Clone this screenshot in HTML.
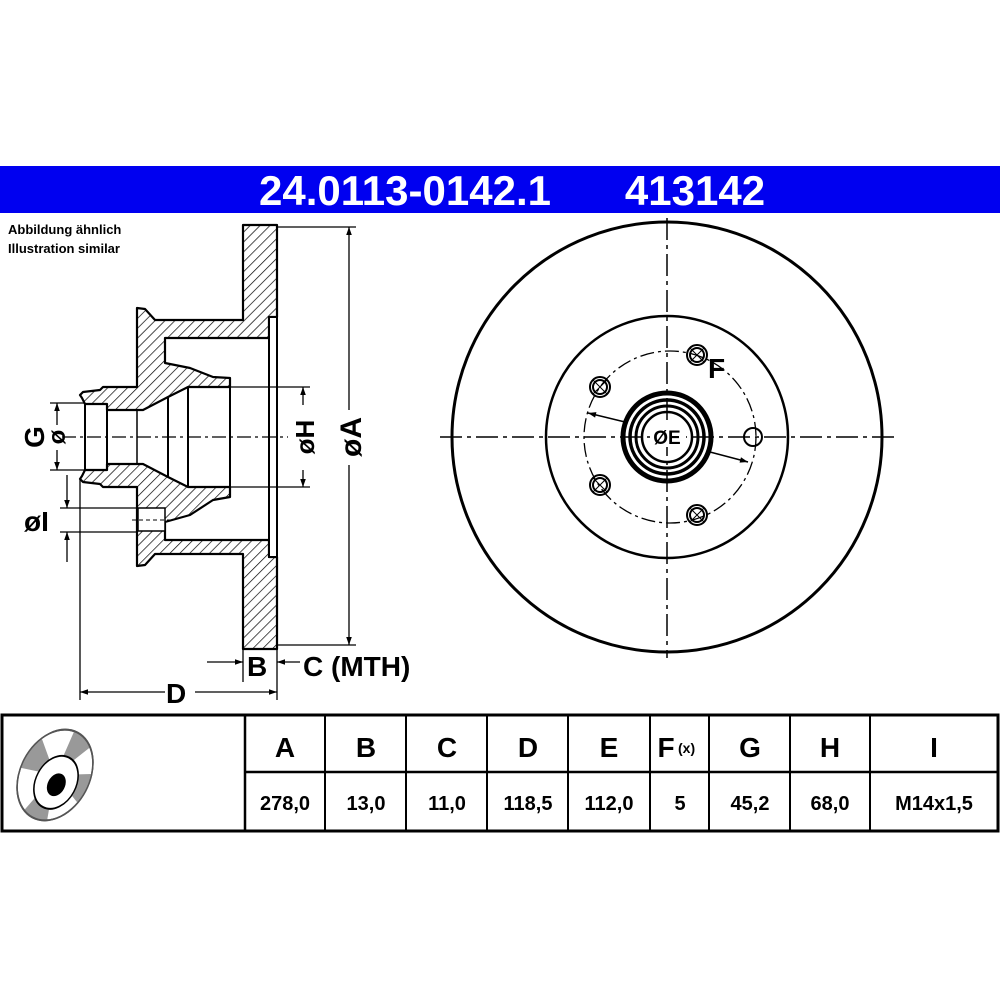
<!DOCTYPE html>
<html><head><meta charset="utf-8"><style>
html,body{margin:0;padding:0;background:#fff;}
svg{display:block;}
text{font-family:"Liberation Sans",Arial,sans-serif;font-weight:bold;fill:#000;}
</style></head><body>
<svg width="1000" height="1000" viewBox="0 0 1000 1000" xmlns="http://www.w3.org/2000/svg">
<defs>
<pattern id="h" patternUnits="userSpaceOnUse" width="7" height="7" patternTransform="rotate(45)">
<rect width="7" height="7" fill="#fff"/><line x1="0" y1="0" x2="0" y2="7" stroke="#000" stroke-width="1.4"/>
</pattern>
<marker id="ar" viewBox="0 0 10 10" refX="10" refY="5" markerWidth="10" markerHeight="8" orient="auto-start-reverse" markerUnits="userSpaceOnUse"><path d="M0,1.5 L10,5 L0,8.5z" fill="#000"/></marker>
</defs>
<rect x="0" y="166" width="1000" height="47" fill="#0000f0"/>
<text x="405" y="205" font-size="42" style="fill:#fff" text-anchor="middle">24.0113-0142.1</text>
<text x="695" y="205" font-size="42" style="fill:#fff" text-anchor="middle">413142</text>
<text x="8" y="234" font-size="13">Abbildung ähnlich</text>
<text x="8" y="253" font-size="13">Illustration similar</text>

<g stroke="#000" stroke-width="2.2" fill="url(#h)" stroke-linejoin="round">
<path d="M243,225 L277,225 L277,317 L269,317 L269,338 L165,338 L165,363 L190,368 L213,377 L230,378 L230,387 L188,387 L182,390 L168,397 L143,410 L107,410 L107,404 L85,404 L82,398 L80,395 L83,392 L100,390 L103,387 L137,387 L137,308 L145,309 L155,320 L243,320 Z"/>
<path d="M243,649 L277,649 L277,557 L269,557 L269,540 L165,540 L165,522 L190,515 L213,500 L230,497 L230,487 L188,487 L182,484 L168,477 L143,464 L107,464 L107,470 L85,470 L82,476 L80,479 L83,482 L100,484 L103,487 L137,487 L137,566 L145,565 L155,554 L243,554 Z"/>
</g>
<rect x="269" y="317" width="8" height="240" fill="#fff" stroke="#000" stroke-width="2"/>
<rect x="138" y="508" width="27" height="23" fill="#fff" stroke="#000" stroke-width="1.5"/>
<line x1="132" y1="520" x2="172" y2="520" stroke="#000" stroke-width="1" stroke-dasharray="4,3"/>
<g stroke="#000" stroke-width="2">
<line x1="85" y1="404" x2="85" y2="470"/><line x1="107" y1="410" x2="107" y2="464"/>
<line x1="137" y1="410" x2="137" y2="464" stroke-width="1.5"/><line x1="168" y1="397" x2="168" y2="477"/>
<line x1="188" y1="387" x2="188" y2="487"/><line x1="230" y1="378" x2="230" y2="497"/>
</g>
<line x1="62" y1="437" x2="288" y2="437" stroke="#000" stroke-width="1.2" stroke-dasharray="14,4,3,4"/>
<g stroke="#000" stroke-width="1.3" fill="none">
<line x1="277" y1="227" x2="356" y2="227"/><line x1="277" y1="645" x2="356" y2="645"/>
<line x1="349" y1="227" x2="349" y2="410" marker-start="url(#ar)"/><line x1="349" y1="465" x2="349" y2="645" marker-end="url(#ar)"/>
<line x1="230" y1="387" x2="310" y2="387"/><line x1="230" y1="487" x2="310" y2="487"/>
<line x1="303" y1="387" x2="303" y2="405" marker-start="url(#ar)"/><line x1="303" y1="470" x2="303" y2="487" marker-end="url(#ar)"/>
<line x1="50" y1="403" x2="85" y2="403"/><line x1="50" y1="470" x2="85" y2="470"/>
<line x1="57" y1="403" x2="57" y2="425" marker-start="url(#ar)"/><line x1="57" y1="450" x2="57" y2="470" marker-end="url(#ar)"/>
<line x1="60" y1="508" x2="137" y2="508"/><line x1="60" y1="532" x2="137" y2="532"/>
<line x1="67" y1="475" x2="67" y2="508" marker-end="url(#ar)"/><line x1="67" y1="562" x2="67" y2="532" marker-end="url(#ar)"/>
<line x1="80" y1="480" x2="80" y2="700"/><line x1="277" y1="645" x2="277" y2="700"/>
<line x1="80" y1="692" x2="165" y2="692" marker-start="url(#ar)"/><line x1="195" y1="692" x2="277" y2="692" marker-end="url(#ar)"/>
<line x1="243" y1="645" x2="243" y2="682"/>
<line x1="207" y1="662" x2="243" y2="662" marker-end="url(#ar)"/><line x1="300" y1="662" x2="277" y2="662" marker-end="url(#ar)"/>
</g>
<text transform="translate(361,437) rotate(-90)" font-size="30" text-anchor="middle">øA</text>
<text transform="translate(314,437) rotate(-90)" font-size="26" text-anchor="middle">øH</text>
<text transform="translate(44,437) rotate(-90)" font-size="28" text-anchor="middle">G</text>
<text transform="translate(65,437) rotate(-90)" font-size="24" text-anchor="middle">ø</text>
<text x="24" y="531" font-size="28">øI</text>
<text x="166" y="703" font-size="28">D</text>
<text x="247" y="676" font-size="28">B</text>
<text x="303" y="676" font-size="28">C (MTH)</text>

<g stroke="#000" fill="none">
<circle cx="667" cy="437" r="215" stroke-width="3"/>
<circle cx="667" cy="437" r="121" stroke-width="2.5"/>
<circle cx="670" cy="437" r="86" stroke-width="1.3" stroke-dasharray="14,4,3,4"/>
<line x1="440" y1="437" x2="895" y2="437" stroke-width="1.5" stroke-dasharray="22,5,4,5"/>
<line x1="667" y1="218" x2="667" y2="658" stroke-width="1.5" stroke-dasharray="22,5,4,5"/>
<circle cx="667" cy="437" r="44" stroke-width="5"/>
<circle cx="667" cy="437" r="37" stroke-width="3.5"/>
<circle cx="667" cy="437" r="31" stroke-width="3"/>
<circle cx="667" cy="437" r="25" stroke-width="2.5"/>
<g stroke-width="2">
<circle cx="697" cy="355" r="10"/><circle cx="697" cy="355" r="7"/>
<circle cx="600" cy="387" r="10"/><circle cx="600" cy="387" r="7"/>
<circle cx="600" cy="485" r="10"/><circle cx="600" cy="485" r="7"/>
<circle cx="697" cy="515" r="10"/><circle cx="697" cy="515" r="7"/>
<circle cx="753" cy="437" r="9"/>
</g>
<g stroke-width="1">
<path d="M690,348 L704,362 M704,348 L690,362 M593,380 L607,394 M607,380 L593,394 M593,478 L607,492 M607,478 L593,492 M690,508 L704,522 M704,508 L690,522"/>
</g>
<line x1="625" y1="422" x2="588" y2="413" stroke-width="1.5" marker-end="url(#ar)"/>
<line x1="710" y1="452" x2="748" y2="462" stroke-width="1.5" marker-end="url(#ar)"/>
</g>
<rect x="650" y="425" width="36" height="22" fill="#fff"/>
<text x="667" y="444" font-size="19" text-anchor="middle">ØE</text>
<text x="708" y="378" font-size="28">F</text>

<g stroke="#000" fill="none">
<rect x="2" y="715" width="996" height="116" stroke-width="3"/>
<line x1="245" y1="715" x2="245" y2="831" stroke-width="2.5"/>
<line x1="245" y1="772" x2="998" y2="772" stroke-width="2.5"/>
<g stroke-width="2">
<line x1="325" y1="715" x2="325" y2="831"/><line x1="406" y1="715" x2="406" y2="831"/>
<line x1="487" y1="715" x2="487" y2="831"/><line x1="568" y1="715" x2="568" y2="831"/>
<line x1="650" y1="715" x2="650" y2="831"/><line x1="709" y1="715" x2="709" y2="831"/>
<line x1="790" y1="715" x2="790" y2="831"/><line x1="870" y1="715" x2="870" y2="831"/>
</g>
</g>
<g font-size="28" text-anchor="middle">
<text x="285" y="757">A</text><text x="366" y="757">B</text><text x="447" y="757">C</text>
<text x="528" y="757">D</text><text x="609" y="757">E</text><text x="666" y="757">F</text>
<text x="750" y="757">G</text><text x="830" y="757">H</text><text x="934" y="757">I</text>
</g>
<text x="678" y="753" font-size="14">(x)</text>
<g font-size="20" text-anchor="middle">
<text x="285" y="810">278,0</text><text x="366" y="810">13,0</text><text x="447" y="810">11,0</text>
<text x="528" y="810">118,5</text><text x="609" y="810">112,0</text><text x="680" y="810">5</text>
<text x="750" y="810">45,2</text><text x="830" y="810">68,0</text><text x="934" y="810">M14x1,5</text>
</g>
<g transform="translate(55,775) rotate(28) scale(0.72,1)">
<circle r="48" fill="#fff" stroke="#555" stroke-width="2"/>
<path d="M0,0 L-48,10 A48,48 0 0 1 -40,-26Z M0,0 L20,44 A48,48 0 0 1 -15,46Z M0,0 L44,-18 A48,48 0 0 1 46,14Z M0,0 L-5,-48 A48,48 0 0 1 25,-41Z" fill="#999"/>
<circle r="48" fill="none" stroke="#555" stroke-width="2"/>
<circle cx="6" cy="6" r="28" fill="#fff" stroke="#000" stroke-width="2"/>
<circle cx="8" cy="8" r="12" fill="#000"/>
</g>
</svg>
</body></html>
